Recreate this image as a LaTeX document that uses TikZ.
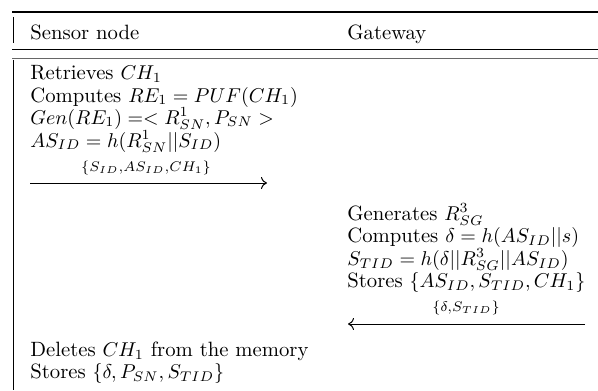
\documentclass[tikz,border=0pt]{standalone}
\usepackage{amsmath}
\usetikzlibrary{arrows.meta}
\begin{document}
\begin{tikzpicture}[x=0.5pt,y=-0.5pt,
  txt/.style={anchor=base west, inner sep=0pt, font=\fontsize{10.35}{13}\selectfont},
  lbl/.style={anchor=base, inner sep=0pt, font=\fontsize{10.35}{13}\selectfont},
  msg/.style={-{To[length=3pt,width=6pt]}, line width=0.5pt},
  rule/.style={line width=0.5pt}]
\useasboundingbox (0,0) rectangle (598,390);
% header rules
\draw[line width=0.8pt] (12,12) -- (598,12);
\draw[rule] (12,50) -- (598,50);
\draw[rule, black!60] (12,58.5) -- (598,58.5);
\draw[rule] (13,17) -- (13,43);
\draw[rule] (13,60) -- (13,390);
% header
\node[txt] (hs) at (30,40) {Sensor node};
\node[txt] (hg) at (347,40) {Gateway};
% sensor block 1
\node[txt] (s1) at (30,80) {Retrieves $CH_1$};
\node[txt] (s2) at (30,102) {Computes $RE_1 = PUF(CH_1)$};
\node[txt] (s3) at (30,124) {$Gen(RE_1) =< R^1_{SN}, P_{SN} >$};
\node[txt] (s4) at (30,147) {$AS_{ID} = h(R^1_{SN}||S_{ID})$};
\coordinate (m1s) at (30,183);
\coordinate (m1e) at (267,183);
\draw[msg] (m1s) -- (m1e);
\node[lbl] (m1l) at (146,171) {$\scriptstyle\{S_{ID},AS_{ID},CH_1\}$};
% gateway block
\node[txt] (g1) at (347,220) {Generates $R^3_{SG}$};
\node[txt] (g2) at (347,242) {Computes $\delta = h(AS_{ID}||s)$};
\node[txt] (g3) at (347,265) {$S_{TID} = h(\delta||R^3_{SG}||AS_{ID})$};
\node[txt] (g4) at (347,287) {Stores $\{AS_{ID}, S_{TID}, CH_1\}$};
\coordinate (m2s) at (585,324);
\coordinate (m2e) at (348,324);
\draw[msg] (m2s) -- (m2e);
\node[lbl] (m2l) at (466,311) {$\scriptstyle\{\delta,S_{TID}\}$};
% sensor block 2
\node[txt] (s5) at (30,356) {Deletes $CH_1$ from the memory};
\node[txt] (s6) at (30,378) {Stores $\{\delta, P_{SN}, S_{TID}\}$};
\end{tikzpicture}
\end{document}
